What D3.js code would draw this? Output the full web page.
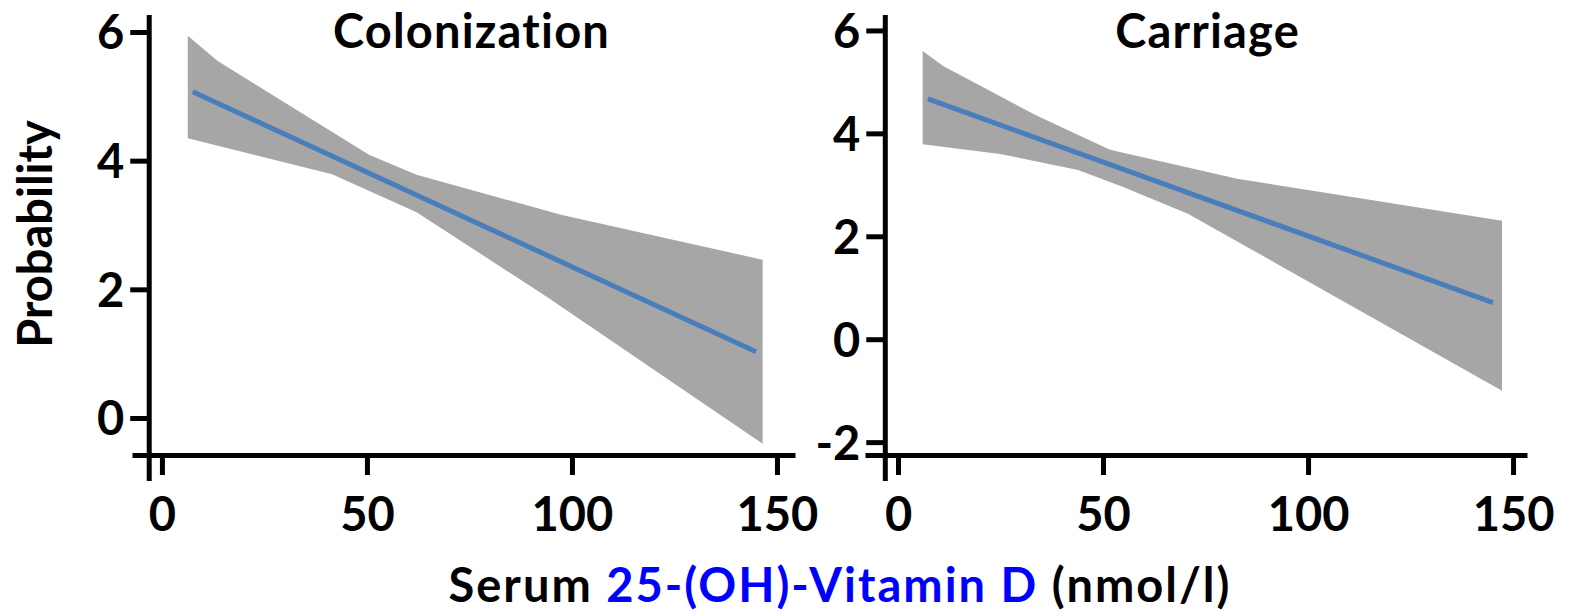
<!DOCTYPE html>
<html>
<head>
<meta charset="utf-8">
<script src="https://cdn.jsdelivr.net/npm/d3@7"></script>
<style>
  html, body { margin: 0; padding: 0; background: #fff; }
  svg { display: block; font-family: Lato, "Open Sans", sans-serif; font-weight: 700; }
</style>
</head>
<body>
<svg id="chart" width="1571" height="613"></svg>
<script>
// Shared x ticks (serum 25-(OH)-vitamin D, nmol/l)
const xTicks = [0, 50, 100, 150];

// Colonization panel
const colonizationYTicks = [0, 2, 4, 6];
const colonizationFitX = [7.5, 144.9];
const colonizationFitY = [5.07, 1.03];
const colonizationUpperX = [6.3, 13.6, 50.5, 62.1, 97.3, 146.5];
const colonizationUpperY = [5.94, 5.55, 4.09, 3.78, 3.16, 2.46];
const colonizationLowerX = [6.3, 41.5, 62.1, 94.2, 146.5];
const colonizationLowerY = [4.35, 3.79, 3.20, 1.87, -0.40];

// Carriage panel
const carriageYTicks = [-2, 0, 2, 4, 6];
const carriageFitX = [7.3, 145.1];
const carriageFitY = [4.67, 0.71];
const carriageUpperX = [6.0, 11.0, 33.9, 51.7, 82.7, 147.3];
const carriageUpperY = [5.60, 5.31, 4.34, 3.68, 3.12, 2.30];
const carriageLowerX = [6.0, 24.9, 43.9, 54.9, 70.7, 147.3];
const carriageLowerY = [3.79, 3.60, 3.29, 2.96, 2.44, -1.00];

const panels = [
  {
    title: "Colonization",
    xDomain: [-7.3, 154.4], xRange: [132, 795],
    yDomain: [-0.575, 6.264],
    yTicks: colonizationYTicks,
    fitX: colonizationFitX, fitY: colonizationFitY,
    upperX: colonizationUpperX, upperY: colonizationUpperY,
    lowerX: colonizationLowerX, lowerY: colonizationLowerY
  },
  {
    title: "Carriage",
    xDomain: [-8.05, 153.4], xRange: [865, 1527],
    yDomain: [-2.25, 6.3],
    yTicks: carriageYTicks,
    fitX: carriageFitX, fitY: carriageFitY,
    upperX: carriageUpperX, upperY: carriageUpperY,
    lowerX: carriageLowerX, lowerY: carriageLowerY
  }
];

const svg = d3.select("#chart");
const plotTop = 15, plotBottom = 455;
const axisWidth = 5;
const fontSize = 47;
// plain integers with an ASCII hyphen for negatives
const tickFmt = d => String(d);

function styleTickText(sel) {
  sel.attr("fill", "#000")
    .style("font-size", fontSize + "px")
    .style("font-family", "Lato")
    .style("font-weight", 700);
}

panels.forEach(p => {
  const x = d3.scaleLinear().domain(p.xDomain).range(p.xRange);
  const y = d3.scaleLinear().domain(p.yDomain).range([plotBottom, plotTop]);
  const g = svg.append("g");

  // confidence band: upper edge left→right, lower edge right→left
  const upper = p.upperX.map((v, i) => [v, p.upperY[i]]);
  const lower = p.lowerX.map((v, i) => [v, p.lowerY[i]]).reverse();
  const poly = d3.line().x(d => x(d[0])).y(d => y(d[1]));
  g.append("path")
    .attr("d", poly(upper.concat(lower)) + "Z")
    .attr("fill", "#a6a6a6");

  // regression line
  const fit = p.fitX.map((v, i) => [v, p.fitY[i]]);
  g.append("path")
    .attr("d", poly(fit))
    .attr("fill", "none")
    .attr("stroke", "#4a7ebb")
    .attr("stroke-width", 5);

  // x axis
  const xAxis = g.append("g")
    .attr("transform", `translate(0,${plotBottom})`)
    .call(d3.axisBottom(x).tickValues(xTicks).tickFormat(tickFmt)
      .tickSize(20).tickSizeOuter(0).tickPadding(23));
  xAxis.select(".domain").attr("stroke", "#000").attr("stroke-width", axisWidth);
  xAxis.selectAll(".tick line").attr("stroke", "#000").attr("stroke-width", axisWidth);
  xAxis.selectAll(".tick text").call(styleTickText);

  // y axis, drawn at x = -3 and extending below the x axis
  const yAxisX = x(-3.1);
  const yAxis = g.append("g")
    .attr("transform", `translate(${yAxisX},0)`)
    .call(d3.axisLeft(y).tickValues(p.yTicks).tickFormat(tickFmt)
      .tickSize(19).tickPadding(6));
  yAxis.select(".domain").remove();
  yAxis.selectAll(".tick line").attr("stroke", "#000").attr("stroke-width", axisWidth);
  yAxis.selectAll(".tick text").attr("dy", "0.36em").call(styleTickText);
  g.append("line")
    .attr("x1", yAxisX).attr("x2", yAxisX)
    .attr("y1", plotTop).attr("y2", plotBottom + 26)
    .attr("stroke", "#000").attr("stroke-width", axisWidth);

  // panel title
  g.append("text")
    .attr("x", x(75.5))
    .attr("y", 48)
    .attr("text-anchor", "middle")
    .style("font-size", fontSize + "px")
    .style("letter-spacing", "1.2px")
    .text(p.title);
});

// y axis title
svg.append("text")
  .attr("transform", "translate(52,234) rotate(-90)")
  .attr("text-anchor", "middle")
  .style("font-size", fontSize + "px")
  .text("Probability");

// x axis title with the analyte highlighted in blue
const xt = svg.append("text")
  .attr("x", 840)
  .attr("y", 602)
  .attr("text-anchor", "middle")
  .style("font-size", fontSize + "px")
  .style("letter-spacing", "2px");
xt.append("tspan").attr("fill", "#000").text("Serum ");
xt.append("tspan").attr("fill", "#0000ff").text("25-(OH)-Vitamin D");
xt.append("tspan").attr("fill", "#000").text(" (nmol/l)");
</script>
</body>
</html>
